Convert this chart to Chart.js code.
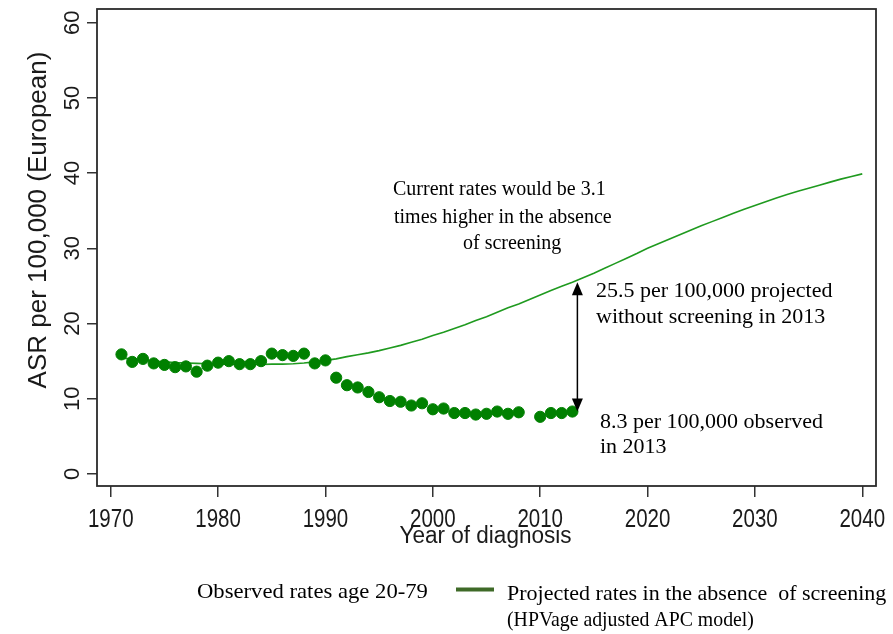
<!DOCTYPE html>
<html>
<head>
<meta charset="utf-8">
<script src="https://cdn.jsdelivr.net/npm/chart.js@4.4.1/dist/chart.umd.min.js"></script>
<style>
  html, body { margin: 0; padding: 0; background: #ffffff; }
  #wrap { width: 893px; height: 634px; position: relative; }
</style>
</head>
<body>
<div id="wrap"><canvas id="c" width="893" height="634"></canvas></div>
<script>
// Observed age-standardised incidence, ages 20-79 (no value for 2009)
const obsYears = [1971, 1972, 1973, 1974, 1975, 1976, 1977, 1978, 1979, 1980,
                  1981, 1982, 1983, 1984, 1985, 1986, 1987, 1988, 1989, 1990,
                  1991, 1992, 1993, 1994, 1995, 1996, 1997, 1998, 1999, 2000,
                  2001, 2002, 2003, 2004, 2005, 2006, 2007, 2008,
                  2010, 2011, 2012, 2013];
const obsRates = [15.9, 14.9, 15.3, 14.7, 14.5, 14.2, 14.3, 13.6, 14.4, 14.8,
                  15.0, 14.6, 14.6, 15.0, 16.0, 15.8, 15.7, 16.0, 14.7, 15.1,
                  12.8, 11.8, 11.5, 10.9, 10.2, 9.7, 9.6, 9.1, 9.4, 8.6,
                  8.7, 8.1, 8.1, 7.9, 8.0, 8.3, 8.0, 8.2,
                  7.6, 8.1, 8.1, 8.3];

// Projected incidence without screening (HPV/age adjusted APC model)
const projYears = [1971, 1972, 1973, 1974, 1975, 1976, 1977, 1978, 1979, 1980,
                   1981, 1982, 1983, 1984, 1985, 1986, 1987, 1988, 1989, 1990,
                   1991, 1992, 1993, 1994, 1995, 1996, 1997, 1998, 1999, 2000,
                   2001, 2002, 2003, 2004, 2005, 2006, 2007, 2008, 2009, 2010,
                   2011, 2012, 2013, 2014, 2015, 2016, 2017, 2018, 2019, 2020,
                   2021, 2022, 2023, 2024, 2025, 2026, 2027, 2028, 2029, 2030,
                   2031, 2032, 2033, 2034, 2035, 2036, 2037, 2038, 2039, 2040];
const projRates = [15.4, 15.3, 15.15, 15.0, 14.9, 14.8, 14.75, 14.7, 14.65, 14.6,
                   14.6, 14.55, 14.55, 14.55, 14.6, 14.6, 14.65, 14.75, 14.9, 15.1,
                   15.3, 15.6, 15.85, 16.1, 16.4, 16.75, 17.1, 17.5, 17.9, 18.4,
                   18.85, 19.35, 19.85, 20.4, 20.9, 21.5, 22.1, 22.6, 23.2, 23.8,
                   24.4, 24.95, 25.5, 26.1, 26.7, 27.35, 28.0, 28.65, 29.3, 30.0,
                   30.6, 31.2, 31.8, 32.4, 33.0, 33.55, 34.1, 34.65, 35.2, 35.7,
                   36.2, 36.7, 37.15, 37.6, 38.0, 38.4, 38.8, 39.2, 39.55, 39.9];

const xTicks = [1970, 1980, 1990, 2000, 2010, 2020, 2030, 2040];
const yTicks = [0, 10, 20, 30, 40, 50, 60];
const xTitle = 'Year of diagnosis';
const yTitle = 'ASR per 100,000 (European)';

const obsLabel = 'Observed rates age 20-79';
const projLabel = ['Projected rates in the absence  of screening', '(HPVage adjusted APC model)'];

// Annotation for the gap in the final observed year
const noteYear = 2013;
const noteProjValue = 25.5;
const noteObsValue = 8.3;
const noteRatio = ['Current rates would be 3.1', 'times higher in the absence', 'of screening'];
const noteProj = ['25.5 per 100,000 projected', 'without screening in 2013'];
const noteObs = ['8.3 per 100,000 observed', 'in 2013'];

const SANS = '"Liberation Sans", Arial, sans-serif';
const SERIF = '"Liberation Serif", "Times New Roman", serif';

function drawText(ctx, s, x, y, font, o) {
  o = o || {};
  ctx.save();
  ctx.translate(x, y);
  if (o.rot) ctx.rotate(o.rot);
  ctx.scale(o.sx || 1, 1);
  ctx.font = font;
  ctx.textAlign = o.align || 'left';
  ctx.textBaseline = 'alphabetic';
  ctx.fillStyle = o.color || '#000000';
  ctx.fillText(s, 0, 0);
  ctx.restore();
}

const decor = {
  id: 'decor',
  beforeDatasetsDraw(chart) {
    const { ctx, chartArea: a } = chart;
    ctx.save();
    ctx.strokeStyle = '#2b2b2b';
    ctx.lineWidth = 1.8;
    ctx.strokeRect(a.left, a.top, a.right - a.left, a.bottom - a.top);
    ctx.restore();
  },
  afterDatasetsDraw(chart) {
    const { ctx } = chart;
    const xs = chart.scales.x, ys = chart.scales.y;

    // axis tick labels
    xTicks.forEach(v => drawText(ctx, String(v), xs.getPixelForValue(v), 527,
      '25px ' + SANS, { align: 'center', sx: 0.82, color: '#1a1a1a' }));
    yTicks.forEach(v => drawText(ctx, String(v), 79, ys.getPixelForValue(v),
      '22px ' + SANS, { align: 'center', rot: -Math.PI / 2, color: '#1a1a1a' }));

    // axis titles
    drawText(ctx, xTitle, (xs.left + xs.right) / 2 - 1, 543, '23px ' + SANS,
      { align: 'center', sx: 0.98, color: '#1a1a1a' });
    drawText(ctx, yTitle, 46, 220, '26px ' + SANS,
      { align: 'center', rot: -Math.PI / 2, color: '#1a1a1a' });

    // double-headed arrow between projected and observed rate in 2013
    const ax = xs.getPixelForValue(noteYear) + 5;
    const yTop = ys.getPixelForValue(noteProjValue);
    const yBot = ys.getPixelForValue(noteObsValue);
    ctx.save();
    ctx.strokeStyle = '#000000';
    ctx.fillStyle = '#000000';
    ctx.lineWidth = 1.5;
    ctx.beginPath();
    ctx.moveTo(ax, yTop + 8);
    ctx.lineTo(ax, yBot - 8);
    ctx.stroke();
    ctx.beginPath();
    ctx.moveTo(ax, yTop);
    ctx.lineTo(ax - 5.5, yTop + 13);
    ctx.lineTo(ax + 5.5, yTop + 13);
    ctx.closePath();
    ctx.fill();
    ctx.beginPath();
    ctx.moveTo(ax, yBot);
    ctx.lineTo(ax - 5.5, yBot - 13);
    ctx.lineTo(ax + 5.5, yBot - 13);
    ctx.closePath();
    ctx.fill();
    ctx.restore();

    // annotation texts
    drawText(ctx, noteRatio[0], 393, 195, '20px ' + SERIF);
    drawText(ctx, noteRatio[1], 394, 223, '20px ' + SERIF);
    drawText(ctx, noteRatio[2], 463, 249, '20px ' + SERIF);
    drawText(ctx, noteProj[0], 596, 297, '22px ' + SERIF);
    drawText(ctx, noteProj[1], 596, 323, '22px ' + SERIF);
    drawText(ctx, noteObs[0], 600, 428, '22px ' + SERIF);
    drawText(ctx, noteObs[1], 600, 453, '22px ' + SERIF);

    // legend
    drawText(ctx, chart.data.datasets[1].label, 197, 598, '22px ' + SERIF, { sx: 1.03 });
    ctx.save();
    ctx.strokeStyle = '#3f6a28';
    ctx.lineWidth = 4;
    ctx.beginPath();
    ctx.moveTo(456, 589.5);
    ctx.lineTo(494, 589.5);
    ctx.stroke();
    ctx.restore();
    drawText(ctx, projLabel[0], 507, 600, '22px ' + SERIF);
    drawText(ctx, projLabel[1], 507, 626, '22px ' + SERIF, { sx: 0.9 });
  }
};

new Chart(document.getElementById('c'), {
  type: 'scatter',
  data: {
    datasets: [
      {
        label: projLabel.join(' '),
        data: projYears.map((yr, i) => ({ x: yr, y: projRates[i] })),
        showLine: true,
        borderColor: '#1f9a1f',
        borderWidth: 1.6,
        pointRadius: 0,
        tension: 0,
        order: 2
      },
      {
        label: obsLabel,
        data: obsYears.map((yr, i) => ({ x: yr, y: obsRates[i] })),
        showLine: false,
        backgroundColor: '#008000',
        borderColor: '#008000',
        borderWidth: 1,
        pointStyle: 'circle',
        pointRadius: 5.6,
        order: 1
      }
    ]
  },
  options: {
    responsive: false,
    animation: false,
    devicePixelRatio: 1,
    layout: { padding: { top: 9, right: 17, left: 0, bottom: 0 } },
    plugins: { legend: { display: false }, tooltip: { enabled: false } },
    scales: {
      x: {
        type: 'linear',
        min: 1968.72,
        max: 2041.28,
        afterBuildTicks: s => { s.ticks = xTicks.map(v => ({ value: v })); },
        afterFit: s => { s.height = 148; },
        ticks: { display: false },
        grid: { drawOnChartArea: false, drawTicks: true, tickLength: 11, color: '#333333', lineWidth: 1.5 },
        border: { display: false }
      },
      y: {
        type: 'linear',
        min: -1.6,
        max: 61.82,
        afterBuildTicks: s => { s.ticks = yTicks.map(v => ({ value: v })); },
        afterFit: s => { s.width = 97; },
        ticks: { display: false },
        grid: { drawOnChartArea: false, drawTicks: true, tickLength: 10, color: '#333333', lineWidth: 1.5 },
        border: { display: false }
      }
    }
  },
  plugins: [decor]
});
</script>
</body>
</html>
